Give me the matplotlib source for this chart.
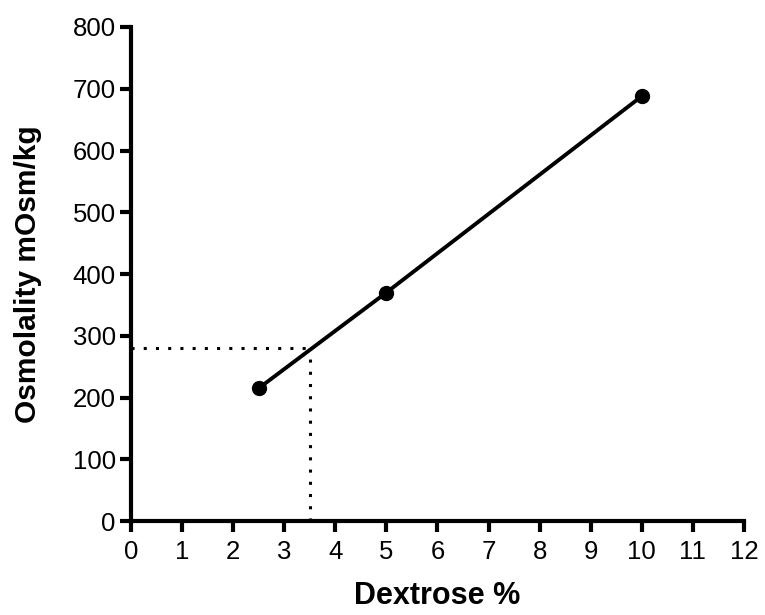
import matplotlib.pyplot as plt

plt.rcParams['font.family'] = ['Liberation Sans', 'DejaVu Sans']

dextrose = [2.5, 5, 10]
osmolality = [215, 370, 688]

# reading for 280 mOsm/kg
target_osm = 280
target_dex = 3.5

xticks = list(range(0, 13))
yticks = list(range(0, 801, 100))

fig = plt.figure(figsize=(7.65, 6.15), dpi=100)
ax = fig.add_axes([0.1712, 0.1528, 0.8013, 0.8033])

ax.plot(dextrose, osmolality, color='black', linewidth=2.8,
        marker='o', markersize=10, solid_capstyle='round')
ax.plot([0, target_dex], [target_osm, target_osm], color='black',
        linewidth=2.2, linestyle=(0, (1, 3)))
ax.plot([target_dex, target_dex], [0, target_osm], color='black',
        linewidth=2.2, linestyle=(0, (1, 3)))

ax.set_xlim(0, 12)
ax.set_ylim(0, 800)
ax.set_xticks(xticks)
ax.set_yticks(yticks)

for side in ['top', 'right']:
    ax.spines[side].set_visible(False)
for side in ['left', 'bottom']:
    ax.spines[side].set_linewidth(3)
    ax.spines[side].set_capstyle('projecting')

ax.tick_params(axis='both', width=3, length=8, labelsize=18.5)
ax.tick_params(axis='x', pad=6)
ax.tick_params(axis='y', pad=3)

ax.set_xlabel('Dextrose %', fontsize=22, fontweight='bold', labelpad=12)
ax.set_ylabel('Osmolality mOsm/kg', fontsize=21.5, fontweight='bold', labelpad=22)

fig.savefig('out.png', dpi=100)
